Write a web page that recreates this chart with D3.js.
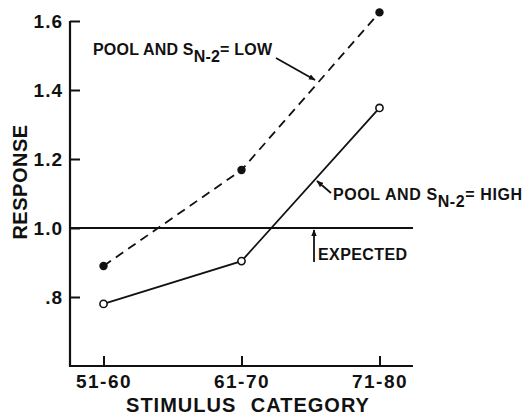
<!DOCTYPE html>
<html><head><meta charset="utf-8">
<script src="https://cdn.jsdelivr.net/npm/d3@7"></script>
<style>
body{margin:0;background:#fff;}
svg{display:block;font-family:"Liberation Sans",Arial,sans-serif;font-weight:bold;}
</style></head>
<body>
<svg id="c" width="531" height="417"></svg>
<script>
const categories = ["51-60","61-70","71-80"];
const lowValues = [0.89, 1.168, 1.625];
const highValues = [0.78, 0.904, 1.348];
const yTicks = [0.8, 1.0, 1.2, 1.4, 1.6];
const yTickLabels = [".8","1.0","1.2","1.4","1.6"];
const expectedValue = 1.0;

const svg = d3.select("#c");
const x = d3.scalePoint().domain(categories).range([70, 413]).padding(0.243);
const y = d3.scaleLinear().domain([0.6, 1.6]).range([366, 21]);
const ink = "#111";

// axes
const yAxis = d3.axisLeft(y).tickValues(yTicks).tickSize(-10).tickSizeOuter(0).tickPadding(6)
  .tickFormat((d,i)=>yTickLabels[i]);
const gy = svg.append("g").attr("transform","translate(70,0)").call(yAxis);
const xAxis = d3.axisBottom(x).tickSize(-10).tickSizeOuter(0).tickPadding(9);
const gx = svg.append("g").attr("transform","translate(0,366)").call(xAxis);
[gy,gx].forEach(g=>{
  g.selectAll("path.domain").attr("stroke",ink).attr("stroke-width",2.2);
  g.selectAll(".tick line").attr("stroke",ink).attr("stroke-width",2);
  g.selectAll(".tick text").attr("fill",ink).style("font-size","19px").style("letter-spacing","1.5px")
    .style("font-family","'Liberation Sans',Arial,sans-serif").style("font-weight","bold");
});
gy.selectAll(".tick text").style("letter-spacing","1px").attr("dx","-1");
gx.select("path.domain").attr("d","M70,0H413");
gy.select("path.domain").attr("d","M0,21V367");

// expected line
svg.append("line").attr("x1",70).attr("x2",413).attr("y1",y(expectedValue)).attr("y2",y(expectedValue))
  .attr("stroke",ink).attr("stroke-width",1.8);

const line = d3.line().x((d,i)=>x(categories[i])).y(d=>y(d));
svg.append("path").datum(lowValues).attr("d",line).attr("fill","none").attr("stroke",ink)
  .attr("stroke-width",1.8).attr("stroke-dasharray","9,6");
svg.append("path").datum(highValues).attr("d",line).attr("fill","none").attr("stroke",ink)
  .attr("stroke-width",1.8);

svg.selectAll("circle.low").data(lowValues).join("circle").attr("class","low")
  .attr("cx",(d,i)=>x(categories[i])).attr("cy",d=>y(d)).attr("r",4.2).attr("fill",ink);
svg.selectAll("circle.high").data(highValues).join("circle").attr("class","high")
  .attr("cx",(d,i)=>x(categories[i])).attr("cy",d=>y(d)).attr("r",3.6).attr("fill","#fff")
  .attr("stroke",ink).attr("stroke-width",1.6);

// arrow marker
svg.append("defs").append("marker").attr("id","ah").attr("viewBox","0 0 10 10")
  .attr("refX",9).attr("refY",5).attr("markerWidth",7).attr("markerHeight",7)
  .attr("markerUnits","userSpaceOnUse").attr("orient","auto")
  .append("path").attr("d","M0,1L10,5L0,9Z").attr("fill",ink);

function label(xp, yp, pre, sub, post, size, ls){
  const t = svg.append("text").attr("x",xp).attr("y",yp).attr("fill",ink)
    .style("font-size",size+"px").style("letter-spacing",ls+"px");
  t.append("tspan").text(pre);
  t.append("tspan").attr("dy",7).style("font-size",(size)+"px").text(sub);
  t.append("tspan").attr("dy",-7).text(post);
  return t;
}
label(93, 55, "POOL AND S", "N-2", "= LOW", 16, 0.2);
label(333, 200, "POOL AND S", "N-2", "= HIGH", 16, 0.6);
svg.append("text").attr("x",318).attr("y",260).attr("fill",ink).style("font-size","16px")
  .style("letter-spacing","0.4px").text("EXPECTED");

function arrow(x1,y1,x2,y2){
  svg.append("line").attr("x1",x1).attr("y1",y1).attr("x2",x2).attr("y2",y2)
    .attr("stroke",ink).attr("stroke-width",1.8).attr("marker-end","url(#ah)");
}
arrow(276,58,315,80);
arrow(331,193,317,181);
arrow(314,262,314,230);

// axis titles
svg.append("text").attr("transform","translate(27,182) rotate(-90)").attr("text-anchor","middle")
  .attr("fill",ink).style("font-size","20px").style("letter-spacing","0.5px").text("RESPONSE");
svg.append("text").attr("x",248).attr("y",412).attr("text-anchor","middle").attr("fill",ink)
  .style("font-size","20px").style("letter-spacing","1px").style("word-spacing","8px").text("STIMULUS CATEGORY");
</script>
</body></html>
